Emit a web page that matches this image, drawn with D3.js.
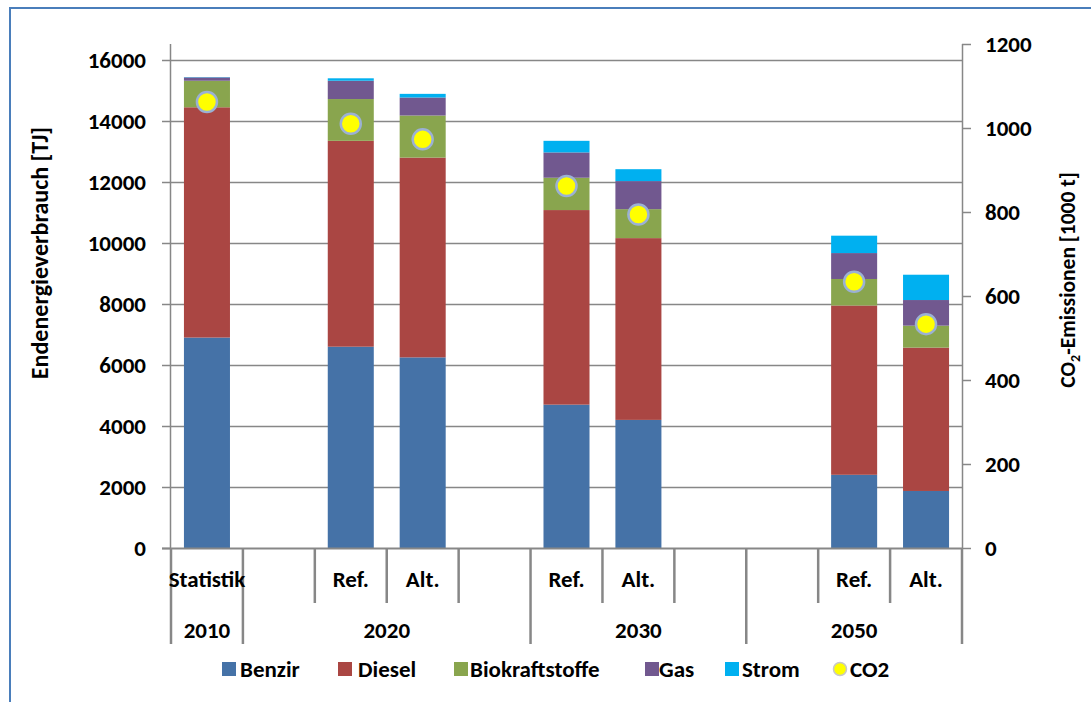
<!DOCTYPE html>
<html>
<head>
<meta charset="utf-8">
<script src="https://cdn.jsdelivr.net/npm/d3@7"></script>
<style>
  html, body { margin: 0; padding: 0; background: #ffffff; }
  svg { display: block; font-family: Carlito, "Liberation Sans", Arial, sans-serif; font-weight: bold; }
</style>
</head>
<body>
<svg id="chart" width="1091" height="702"></svg>
<script>
// ---- data ----
const slotLabels = ["Statistik", "", "Ref.", "Alt.", "", "Ref.", "Alt.", "", "", "Ref.", "Alt."];
const slotGroups = ["2010", "2020", "2020", "2020", "2020", "2030", "2030", "2030", "2050", "2050", "2050"];
const seriesNames = ["Benzir", "Diesel", "Biokraftstoffe", "Gas", "Strom"];
const benzin = [6900, null, 6600, 6250, null, 4700, 4200, null, null, 2400, 1870];
const diesel = [7550, null, 6750, 6550, null, 6380, 5960, null, null, 5550, 4700];
const biokraftstoffe = [870, null, 1370, 1380, null, 1060, 950, null, null, 870, 720];
const gas = [110, null, 600, 590, null, 830, 920, null, null, 850, 840];
const strom = [10, null, 80, 120, null, 380, 390, null, null, 570, 830];
const co2 = [1062, null, 1010, 973, null, 862, 794, null, null, 634, 533];
const leftTicks = [0, 2000, 4000, 6000, 8000, 10000, 12000, 14000, 16000];
const rightTicks = [0, 200, 400, 600, 800, 1000, 1200];

const colors = ["#4572A7", "#AA4643", "#89A54E", "#71588F", "#00B0F0"];
const seriesValues = [benzin, diesel, biokraftstoffe, gas, strom];

// ---- layout ----
const svg = d3.select("#chart");
const plotL = 171, plotR = 962, plotB = 548;
const axisGray = "#878787";
const FS = 23;

// outer frame (left + top visible)
svg.append("path").attr("d", "M10,702 L10,8 L1091,8")
  .attr("fill", "none").attr("stroke", "#4A7EBB").attr("stroke-width", 2);

const x = d3.scaleBand().domain(d3.range(slotLabels.length)).range([plotL, plotR])
  .paddingInner(0.36).paddingOuter(0.18);
const yL = d3.scaleLinear().domain([0, 16000]).range([plotB, 60]);
const yR = d3.scaleLinear().domain([0, 1200]).range([plotB, 44]);

// gridlines
svg.append("g").selectAll("line").data(leftTicks.filter(d => d > 0)).join("line")
  .attr("x1", plotL).attr("x2", plotR)
  .attr("y1", d => Math.round(yL(d)) + 0.5).attr("y2", d => Math.round(yL(d)) + 0.5)
  .attr("stroke", axisGray).attr("stroke-width", 1.5);

// stacked bars
const rows = slotLabels.map((l, i) => {
  const o = { i };
  seriesNames.forEach((s, k) => o[s] = seriesValues[k][i] || 0);
  return o;
}).filter(r => benzin[r.i] !== null);
const stack = d3.stack().keys(seriesNames)(rows);
svg.append("g").selectAll("g").data(stack).join("g")
  .attr("fill", (d, k) => colors[k])
  .selectAll("rect").data(d => d).join("rect")
  .attr("x", d => x(d.data.i))
  .attr("width", x.bandwidth())
  .attr("y", d => yL(d[1]))
  .attr("height", d => Math.max(0, yL(d[0]) - yL(d[1])));

// axes
const leftAxis = d3.axisLeft(yL).tickValues(leftTicks).tickSize(9).tickPadding(16).tickFormat(d3.format("d"));
const gL = svg.append("g").attr("transform", `translate(${plotL},0)`).call(leftAxis);
gL.select(".domain").attr("d", `M-0.5,44V${plotB}`);
const rightAxis = d3.axisRight(yR).tickValues(rightTicks).tickSize(9).tickPadding(14).tickFormat(d3.format("d"));
const gR = svg.append("g").attr("transform", `translate(${plotR},0)`).call(rightAxis);
gR.select(".domain").attr("d", `M0.5,44V${plotB}`);
[gL, gR].forEach(g => {
  g.selectAll(".domain, .tick line").attr("stroke", axisGray).attr("stroke-width", 1.5);
  g.selectAll("text").attr("font-size", FS).attr("fill", "#000")
    .attr("font-family", "Carlito, 'Liberation Sans', Arial, sans-serif").attr("font-weight", "bold");
});

// bottom axis line
svg.append("line").attr("x1", plotL - 9).attr("x2", plotR).attr("y1", plotB + 0.5).attr("y2", plotB + 0.5)
  .attr("stroke", axisGray).attr("stroke-width", 2);

// category dividers
const step = x.step();
const x0 = plotL;
const bounds = d3.range(slotLabels.length + 1);
svg.append("g").selectAll("line").data(bounds).join("line")
  .attr("x1", i => x0 + i * step).attr("x2", i => x0 + i * step)
  .attr("y1", plotB)
  .attr("y2", i => (i === 0 || i === slotLabels.length || slotGroups[i] !== slotGroups[i - 1]) ? 644 : 603)
  .attr("stroke", axisGray).attr("stroke-width", 2.5);

// slot labels
svg.append("g").selectAll("text").data(slotLabels.map((l, i) => ({ l, i })).filter(d => d.l)).join("text")
  .attr("x", d => x(d.i) + x.bandwidth() / 2).attr("y", 587)
  .attr("text-anchor", "middle").attr("font-size", FS).text(d => d.l);

// group labels
const groupNames = Array.from(new Set(slotGroups));
svg.append("g").selectAll("text").data(groupNames).join("text")
  .attr("x", g => {
    const idx = slotGroups.map((s, i) => s === g ? i : -1).filter(i => i >= 0);
    return x0 + (d3.min(idx) + d3.max(idx) + 1) / 2 * step;
  })
  .attr("y", 638).attr("text-anchor", "middle").attr("font-size", FS).text(g => g);

// CO2 points
svg.append("g").selectAll("circle").data(co2.map((v, i) => ({ v, i })).filter(d => d.v !== null)).join("circle")
  .attr("cx", d => x(d.i) + x.bandwidth() / 2).attr("cy", d => yR(d.v)).attr("r", 10)
  .attr("fill", "#FFFF00").attr("stroke", "#9BB1D4").attr("stroke-width", 2.5);

// axis titles
svg.append("text").attr("transform", "translate(48,253) rotate(-90)")
  .attr("text-anchor", "middle").attr("font-size", 24)
  .text("Endenergieverbrauch [TJ]");
const rt = svg.append("text").attr("transform", "translate(1075,280) rotate(-90)")
  .attr("text-anchor", "middle").attr("font-size", 21.5);
rt.append("tspan").text("CO");
rt.append("tspan").attr("font-size", 14).attr("dy", 5).text("2");
rt.append("tspan").attr("dy", -5).text("-Emissionen [1000 t]");

// legend
const legendSq = [222, 338, 454, 645, 725];
const legendTx = [240, 358, 470, 659, 742];
const lg = svg.append("g");
seriesNames.forEach((s, k) => {
  lg.append("rect").attr("x", legendSq[k]).attr("y", 662).attr("width", 14).attr("height", 14).attr("fill", colors[k]);
  lg.append("text").attr("x", legendTx[k]).attr("y", 677).attr("font-size", FS).text(s);
});
lg.append("circle").attr("cx", 840).attr("cy", 669).attr("r", 6.5)
  .attr("fill", "#FFFF00").attr("stroke", "#C8C8C8").attr("stroke-width", 1.5);
lg.append("text").attr("x", 850).attr("y", 677).attr("font-size", FS).text("CO2");
</script>
</body>
</html>
